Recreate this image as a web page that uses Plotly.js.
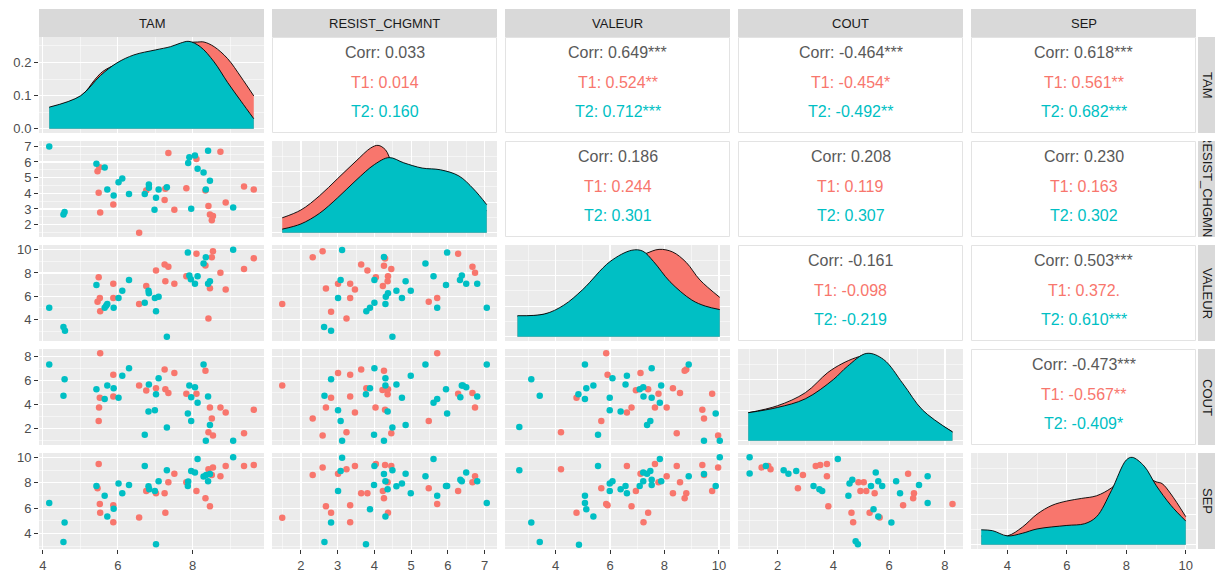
<!DOCTYPE html>
<html><head><meta charset="utf-8">
<script src="https://cdn.plot.ly/plotly-3.0.1.min.js"></script>
<style>html,body{margin:0;padding:0;background:#fff}</style>
</head><body><div id="chart" style="width:1215px;height:574px"></div>
<script>
// ---------- data ----------
const varNames = ['TAM','RESIST_CHGMNT','VALEUR','COUT','SEP'];
const majorTicks = [[4,6,8],[2,3,4,5,6,7],[4,6,8,10],[2,4,6,8],[4,6,8,10]];
const minorTicks = [[3,5,7,9],[1.5,2.5,3.5,4.5,5.5,6.5],[3,5,7,9],[1,3,5,7],[3,5,7,9]];
const densTicks = [0,0.1,0.2];
const densTickText = ['0.0','0.1','0.2'];

// RESIST_CHGMNT (y) vs TAM (x)
const A_T1_x = [7.35,8.74,5.46,5.51,5.49,5.53,5.88,6.57,6.76,7.25,7.27,7.51,7.83,8.10,8.34,8.42,8.46,8.54,8.51,8.88,9.37,9.63];
const A_T1_y = [6.58,6.66,5.41,5.67,4.03,2.78,3.29,1.49,4.18,3.57,4.29,2.95,4.33,6.19,4.18,3.19,2.64,2.55,2.28,3.42,4.44,4.25];
const A_T2_x = [4.17,4.55,4.58,5.43,5.65,5.72,5.89,6.02,6.12,6.30,6.72,6.83,6.83,6.98,7.02,7.09,7.31,7.88,7.91,8.06,7.96,8.13,8.29,8.35,8.41,8.46,9.08];
const A_T2_y = [6.98,2.64,2.81,5.88,5.64,4.25,3.86,4.71,4.94,3.95,3.95,4.56,4.35,2.95,3.72,4.25,4.39,5.94,6.30,6.41,3.02,5.56,5.33,4.25,6.72,4.80,3.10];
// VALEUR vs TAM
const B_T1_x = [5.49,5.46,5.52,5.53,5.88,5.88,6.57,6.76,7.02,7.25,7.35,7.27,7.51,7.83,8.10,8.34,8.42,8.46,8.51,8.54,8.74,8.88,9.37,9.63];
const B_T1_y = [7.62,5.52,5.84,4.70,7.08,5.84,5.33,6.88,8.22,8.73,8.53,7.28,7.08,7.71,9.66,8.64,4.08,6.69,9.35,9.86,8.02,6.57,8.33,9.26];
const B_T2_x = [4.17,4.55,4.59,5.43,5.65,5.69,5.72,5.89,6.02,6.12,6.30,6.72,6.82,6.83,6.99,7.02,7.09,7.31,7.87,7.91,7.95,8.06,8.13,8.29,8.35,8.41,8.46,9.08];
const B_T2_y = [5.01,3.34,3.03,6.97,5.01,5.18,5.33,5.01,5.84,6.46,7.39,5.44,6.46,6.26,5.84,4.70,5.95,2.52,9.75,7.79,7.45,7.08,7.71,8.81,9.35,7.08,7.28,10.0];
// VALEUR vs RESIST_CHGMNT
const C_T1_x = [1.49,2.32,2.59,2.68,2.82,3.01,3.24,3.34,3.34,3.47,3.64,3.81,4.04,4.23,4.26,4.29,4.36,4.37,4.46,5.48,5.71,6.28,6.67,6.74];
const C_T1_y = [5.33,9.35,9.86,6.66,4.67,7.08,4.08,7.08,5.84,6.57,8.73,8.22,7.62,6.88,8.61,9.24,7.28,7.71,8.33,5.52,5.84,9.66,8.53,8.02];
const C_T2_x = [2.63,2.82,3.01,3.08,3.12,3.78,3.88,4.00,4.00,4.26,4.30,4.31,4.37,4.49,4.60,4.75,4.85,4.99,5.39,5.61,5.71,5.95,5.98,6.33,6.38,6.50,6.80,7.06];
const C_T2_y = [3.34,3.03,5.84,7.39,9.97,4.70,5.01,5.44,7.39,9.38,5.33,5.95,6.26,2.52,6.46,5.84,7.28,6.46,8.81,7.71,5.01,6.97,9.75,7.39,7.79,7.08,7.08,5.01];
// COUT vs TAM
const D_T1_x = [5.53,5.49,5.50,5.52,5.88,5.88,6.57,6.76,7.02,7.25,7.27,7.35,7.51,7.83,8.10,8.34,8.42,8.46,8.51,8.54,8.74,8.88,9.37,9.63];
const D_T1_y = [8.28,2.60,3.74,4.56,6.49,4.65,5.59,5.16,5.36,6.92,5.27,4.96,6.64,4.88,4.88,6.81,1.66,3.74,2.80,1.38,3.74,3.31,1.58,3.54];
const D_T2_x = [4.17,4.58,4.55,5.43,5.65,5.72,5.89,6.02,6.12,6.30,6.72,6.82,6.83,6.99,7.02,7.09,7.31,7.87,7.91,7.96,7.96,8.06,8.13,8.29,8.35,8.41,8.46,9.08];
const D_T2_y = [7.35,6.10,4.73,5.27,4.45,5.59,5.36,4.56,6.41,7.03,1.44,3.40,5.67,3.51,4.85,6.18,2.06,3.23,5.59,2.60,4.59,5.44,4.14,7.35,0.95,4.65,2.26,0.95];
// COUT vs RESIST_CHGMNT
const E_T1_x = [1.49,2.32,2.59,2.68,2.82,3.01,3.24,3.34,3.34,3.47,3.64,3.78,4.03,4.22,4.26,4.29,4.31,4.36,4.37,4.46,5.48,5.71,6.28,6.67,6.74];
const E_T1_y = [5.59,2.80,1.38,3.74,4.56,6.64,1.66,6.49,4.65,3.31,6.92,5.36,3.74,5.21,6.81,3.54,5.27,4.85,5.27,1.58,2.60,8.28,4.88,4.96,3.74];
const E_T2_x = [2.64,2.82,3.01,3.08,3.12,3.77,3.88,3.99,4.00,4.26,4.30,4.30,4.36,4.49,4.60,4.75,4.85,4.99,5.39,5.61,5.71,5.95,5.98,6.34,6.38,6.41,6.50,6.80,7.06];
const E_T2_y = [4.73,6.10,3.51,2.60,0.95,4.85,5.36,1.44,7.03,0.95,6.18,5.59,3.40,2.06,5.67,4.56,2.26,6.41,7.35,4.14,4.45,5.27,3.23,4.59,5.59,5.59,5.44,4.65,7.35];
// COUT vs VALEUR
const F_T1_x = [4.20,4.77,5.68,5.86,5.91,6.62,6.79,6.95,7.12,7.40,7.65,7.78,8.08,8.31,8.45,8.57,8.74,8.80,9.39,9.45,9.75,9.97];
const F_T1_y = [1.66,4.56,2.60,8.28,6.49,3.31,3.74,5.19,6.64,5.27,3.74,4.88,3.74,5.36,1.58,4.96,6.81,6.92,3.54,2.80,4.88,1.38];
const F_T2_x = [2.67,3.11,3.42,4.84,5.08,5.08,5.13,5.39,5.56,5.99,5.99,6.09,6.39,6.57,6.62,7.09,7.22,7.23,7.36,7.48,7.53,7.53,7.83,7.88,8.89,9.45,9.88,10.03];
const F_T2_y = [2.09,6.10,4.73,4.85,4.45,7.35,5.36,5.59,1.44,4.56,3.51,6.18,3.40,5.67,6.41,5.27,5.44,4.65,2.26,2.60,7.03,4.56,4.14,5.59,7.35,0.95,3.23,0.95];
// SEP vs TAM
const G_T1_x = [5.49,5.46,5.52,5.53,5.88,5.88,6.57,6.76,7.02,7.25,7.27,7.35,7.51,7.83,8.10,8.34,8.42,8.46,8.51,8.54,8.74,8.88,9.37,9.63];
const G_T1_y = [9.47,7.57,6.32,5.63,6.22,4.89,5.26,7.35,7.17,7.17,5.63,8.04,8.70,8.04,7.35,6.77,9.07,6.14,8.60,9.21,8.52,9.31,9.31,9.39];
const G_T2_x = [4.17,4.58,4.55,5.43,5.65,5.72,5.89,6.02,6.12,6.30,6.72,6.82,6.84,6.99,7.02,7.09,7.31,7.87,7.88,7.96,8.06,8.13,8.29,8.36,8.41,8.46,9.08];
const G_T2_y = [6.40,4.87,3.33,7.75,6.98,5.34,5.95,7.94,7.17,7.83,9.31,7.72,7.49,7.35,3.15,8.12,8.99,7.75,8.10,8.92,8.81,9.87,8.49,8.60,8.12,8.68,10.0];
// SEP vs RESIST_CHGMNT
const H_T1_x = [1.49,2.32,2.59,2.68,2.82,3.01,3.24,3.34,3.34,3.47,3.64,3.81,4.04,4.23,4.26,4.29,4.36,4.37,4.46,5.48,5.71,6.28,6.67,6.74];
const H_T1_y = [5.24,8.60,9.21,6.14,5.63,8.70,9.07,6.22,4.89,9.31,7.17,7.17,9.47,7.35,6.77,9.39,8.04,5.63,9.31,7.57,6.32,7.35,8.04,8.52];
const H_T2_x = [2.64,2.82,3.01,3.08,3.12,3.77,3.88,3.99,4.00,4.26,4.30,4.30,4.36,4.49,4.60,4.75,4.85,4.99,5.39,5.61,5.71,5.95,5.98,6.34,6.38,6.50,6.80,7.06];
const H_T2_y = [3.33,4.87,7.35,8.92,9.97,3.15,5.90,7.83,9.31,8.68,8.12,5.34,7.49,8.99,7.72,7.94,8.70,7.17,8.52,9.87,6.98,7.75,7.75,8.23,8.12,8.81,8.12,6.40];
// SEP vs VALEUR
const I_T1_x = [4.20,4.77,5.68,5.86,5.91,6.62,6.79,6.95,7.12,7.23,7.40,7.65,7.78,8.08,8.31,8.45,8.57,8.74,8.80,9.39,9.45,9.75,9.97];
const I_T1_y = [9.07,5.63,7.57,6.32,6.22,9.31,6.14,7.35,8.70,4.89,5.63,9.47,8.04,8.52,7.17,9.31,8.04,6.77,7.17,9.39,8.60,7.35,9.21];
const I_T2_x = [2.67,3.11,3.42,4.86,5.08,5.08,5.13,5.39,5.56,5.99,5.99,6.09,6.39,6.57,6.62,7.09,7.22,7.22,7.36,7.48,7.53,7.53,7.83,7.88,8.89,9.45,9.88,10.03];
const I_T2_y = [8.99,4.87,3.33,3.12,6.98,6.40,5.90,5.34,9.31,7.35,7.94,8.12,7.49,7.75,7.17,7.75,8.12,8.81,8.70,8.92,8.23,7.83,9.87,8.12,8.52,8.68,7.75,10.0];
// SEP vs COUT
const J_T1_x = [1.43,1.67,1.75,2.73,2.91,3.37,3.53,3.77,3.77,3.82,4.65,4.71,4.90,4.97,5.09,5.18,5.30,5.48,5.66,6.50,6.68,6.86,6.89,8.27];
const J_T1_y = [9.21,9.31,9.07,7.57,8.60,9.31,9.39,9.47,8.52,6.14,5.63,4.89,8.04,7.35,8.04,7.35,5.63,7.17,5.26,6.22,8.70,6.77,7.17,6.32];
const J_T2_x = [1.00,1.00,1.58,2.22,2.39,2.67,3.29,3.50,3.60,4.16,4.54,4.58,4.68,4.80,4.88,5.35,5.44,5.52,5.61,5.61,5.75,6.08,6.25,6.39,7.07,7.38,7.38];
const J_T2_y = [10.0,8.73,9.31,8.99,8.70,8.92,7.75,7.49,7.35,9.87,6.98,7.94,8.23,3.39,3.15,7.75,5.90,8.81,8.12,5.34,7.75,4.87,8.12,7.17,7.83,6.40,8.52];

// densities (TAM in density units, others relative to panel max)
const TAM_dx_T1 = [4.17,5.0,5.4,5.6,6.0,6.5,7.0,7.5,7.9,8.13,8.3,8.57,8.93,9.29,9.63];
const TAM_d_T1  = [0.063,0.097,0.150,0.173,0.197,0.220,0.235,0.245,0.260,0.262,0.262,0.248,0.212,0.156,0.099];
const TAM_dx_T2 = [4.17,5.0,5.54,5.98,6.43,7.0,7.41,7.68,7.9,8.2,8.57,8.93,9.29,9.63];
const TAM_d_T2  = [0.065,0.099,0.161,0.199,0.223,0.238,0.248,0.259,0.264,0.248,0.202,0.140,0.083,0.030];
const RES_dx_T1 = [1.49,2.0,2.5,3.0,3.5,3.9,4.1,4.3,4.5,5.0,5.5,6.0,6.5,7.06];
const RES_d_T1  = [0.17,0.26,0.42,0.62,0.82,0.97,1.0,0.95,0.80,0.68,0.60,0.55,0.42,0.25];
const RES_dx_T2 = [1.49,2.0,2.5,3.0,3.5,4.0,4.4,4.8,5.3,5.8,6.3,6.7,7.06];
const RES_d_T2  = [0.04,0.10,0.22,0.40,0.60,0.78,0.86,0.80,0.74,0.72,0.65,0.50,0.32];
const VAL_dx_T1 = [2.6,3.5,4.5,5.5,6.5,7.3,7.8,8.3,8.8,9.3,10.03];
const VAL_d_T1  = [0.23,0.25,0.35,0.60,0.85,0.95,1.0,0.97,0.85,0.65,0.45];
const VAL_dx_T2 = [2.6,3.6,4.3,5.0,6.0,6.8,7.2,7.6,8.2,9.0,9.5,10.03];
const VAL_d_T2  = [0.24,0.26,0.36,0.54,0.86,0.99,0.98,0.86,0.63,0.42,0.35,0.31];
const COU_dx_T1 = [0.95,2.0,3.0,3.8,4.3,4.8,5.2,5.6,6.5,7.2,8.27];
const COU_d_T1  = [0.32,0.40,0.55,0.78,0.88,0.95,0.98,0.95,0.62,0.33,0.10];
const COU_dx_T2 = [0.95,2.0,3.0,4.0,4.5,5.2,5.8,6.5,7.2,8.27];
const COU_d_T2  = [0.32,0.38,0.48,0.70,0.85,1.0,0.93,0.65,0.35,0.10];
const SEP_dx_T1 = [3.12,4.0,4.5,5.0,5.5,6.0,6.5,7.0,7.5,8.0,8.5,9.0,9.2,9.5,10.0];
const SEP_d_T1  = [0.10,0.10,0.20,0.35,0.45,0.50,0.53,0.56,0.65,0.80,0.80,0.72,0.70,0.58,0.32];
const SEP_dx_T2 = [3.12,3.5,4.0,4.5,5.0,6.0,6.6,7.0,7.5,8.0,8.2,8.6,9.0,9.5,10.0];
const SEP_d_T2  = [0.17,0.16,0.10,0.13,0.18,0.22,0.24,0.32,0.62,0.97,1.0,0.90,0.68,0.45,0.27];

// correlation texts (upper triangle)
const corrPairs = [[0,1],[0,2],[0,3],[0,4],[1,2],[1,3],[1,4],[2,3],[2,4],[3,4]];
const corrAll = ['0.033','0.649***','-0.464***','0.618***','0.186','0.208','0.230','-0.161','0.503***','-0.473***'];
const corrT1  = ['0.014','0.524**','-0.454*','0.561**','0.244','0.119','0.163','-0.098','0.372.','-0.567**'];
const corrT2  = ['0.160','0.712***','-0.492**','0.682***','0.301','0.307','0.302','-0.219','0.610***','-0.409*'];

// ---------- assembly ----------
const W = 1215, H = 574;
const COL1 = '#F8766D', COL2 = '#00BFC4';
const FONT = '"Liberation Sans", Arial, sans-serif';
const colLeft = [39,272,505,738,971], panelW = 225;
const rowTop = [37,141,245,349,453], panelH = 96;
const px = v => v / W, py = v => 1 - v / H;

const scatterPanels = [
  {r:1,c:0,t1x:A_T1_x,t1y:A_T1_y,t2x:A_T2_x,t2y:A_T2_y},
  {r:2,c:0,t1x:B_T1_x,t1y:B_T1_y,t2x:B_T2_x,t2y:B_T2_y},
  {r:2,c:1,t1x:C_T1_x,t1y:C_T1_y,t2x:C_T2_x,t2y:C_T2_y},
  {r:3,c:0,t1x:D_T1_x,t1y:D_T1_y,t2x:D_T2_x,t2y:D_T2_y},
  {r:3,c:1,t1x:E_T1_x,t1y:E_T1_y,t2x:E_T2_x,t2y:E_T2_y},
  {r:3,c:2,t1x:F_T1_x,t1y:F_T1_y,t2x:F_T2_x,t2y:F_T2_y},
  {r:4,c:0,t1x:G_T1_x,t1y:G_T1_y,t2x:G_T2_x,t2y:G_T2_y},
  {r:4,c:1,t1x:H_T1_x,t1y:H_T1_y,t2x:H_T2_x,t2y:H_T2_y},
  {r:4,c:2,t1x:I_T1_x,t1y:I_T1_y,t2x:I_T2_x,t2y:I_T2_y},
  {r:4,c:3,t1x:J_T1_x,t1y:J_T1_y,t2x:J_T2_x,t2y:J_T2_y}
];
const densPanels = [
  {x1:TAM_dx_T1,y1:TAM_d_T1,x2:TAM_dx_T2,y2:TAM_d_T2},
  {x1:RES_dx_T1,y1:RES_d_T1,x2:RES_dx_T2,y2:RES_d_T2},
  {x1:VAL_dx_T1,y1:VAL_d_T1,x2:VAL_dx_T2,y2:VAL_d_T2},
  {x1:COU_dx_T1,y1:COU_d_T1,x2:COU_dx_T2,y2:COU_d_T2},
  {x1:SEP_dx_T1,y1:SEP_d_T1,x2:SEP_dx_T2,y2:SEP_d_T2}
];

// variable extents from the data (ggplot adds 5% on each side)
const mins = [Infinity,Infinity,Infinity,Infinity,Infinity], maxs = [-Infinity,-Infinity,-Infinity,-Infinity,-Infinity];
scatterPanels.forEach(p => {
  [...p.t1x,...p.t2x].forEach(v => {mins[p.c]=Math.min(mins[p.c],v); maxs[p.c]=Math.max(maxs[p.c],v);});
  [...p.t1y,...p.t2y].forEach(v => {mins[p.r]=Math.min(mins[p.r],v); maxs[p.r]=Math.max(maxs[p.r],v);});
});
const ranges = mins.map((m,i)=>{const d=(maxs[i]-m)*0.05; return [m-d, maxs[i]+d];});

const axName = (k, a) => k === 1 ? a : a + k;
const traces = [], layout = {
  width: W, height: H, margin: {l:0,r:0,t:0,b:0}, showlegend: false,
  paper_bgcolor: '#FFFFFF', plot_bgcolor: 'rgba(0,0,0,0)',
  font: {family: FONT, color: '#4D4D4D', size: 13},
  shapes: [], annotations: []
};
const tickStyle = {ticks:'outside', ticklen:4, tickwidth:1, tickcolor:'#333333',
                   showticklabels:true, tickfont:{family:FONT,size:13,color:'#4D4D4D'}};

for (let r = 0; r < 5; r++) {
  for (let c = 0; c < 5; c++) {
    if (r < c) {
      // upper panel: white box with a light border
      layout.shapes.push({type:'rect', xref:'paper', yref:'paper',
        x0:px(colLeft[c]+0.5), x1:px(colLeft[c]+panelW-0.5), y0:py(rowTop[r]+panelH-0.5), y1:py(rowTop[r]+0.5),
        fillcolor:'#FFFFFF', line:{color:'#E3E3E3', width:1}, layer:'below'});
      continue;
    }
    const k = r*5 + c + 1;
    const xa = axName(k,'x'), ya = axName(k,'y');
    const xdom = [px(colLeft[c]), px(colLeft[c]+panelW)];
    const ydom = [py(rowTop[r]+panelH), py(rowTop[r])];
    const base = {fixedrange:true, zeroline:false, showline:false};
    const xaxis = Object.assign({}, base, {domain: xdom, anchor: ya, range: ranges[c],
      showgrid:true, gridcolor:'#FFFFFF', gridwidth:1.1,
      tickmode:'array', tickvals: majorTicks[c], showticklabels:false, ticks:'',
      minor:{tickmode:'array', tickvals: minorTicks[c], showgrid:true, gridcolor:'#FFFFFF', gridwidth:0.5, ticks:''}});
    const yaxis = Object.assign({}, base, {domain: ydom, anchor: xa});
    if (r === 4) Object.assign(xaxis, tickStyle);
    layout.shapes.push({type:'rect', xref:xa+' domain', yref:ya+' domain', x0:0,x1:1,y0:0,y1:1,
      fillcolor:'#EBEBEB', line:{width:0}, layer:'below'});
    if (r === c) {
      const top = c === 0 ? Math.max(...TAM_d_T1, ...TAM_d_T2) : 1;
      yaxis.range = [-0.05*top, 1.05*top];
      const mj = c === 0 ? densTicks : [0,0.35,0.7,1.05];
      const mn = c === 0 ? [0.05,0.15,0.25] : [0.175,0.525,0.875];
      Object.assign(yaxis, {showgrid:true, gridcolor:'#FFFFFF', gridwidth:1.1,
        tickmode:'array', tickvals: mj, showticklabels:false, ticks:'',
        minor:{tickmode:'array', tickvals: mn, showgrid:true, gridcolor:'#FFFFFF', gridwidth:0.5, ticks:''}});
      if (c === 0) yaxis.ticktext = densTickText;
      const d = densPanels[c];
      traces.push({type:'scatter', mode:'lines', x:d.x1, y:d.y1, xaxis:xa, yaxis:ya,
        line:{color:'#000000', width:0.9, shape:'spline', smoothing:1}, fill:'tozeroy', fillcolor:COL1, hoverinfo:'skip'});
      traces.push({type:'scatter', mode:'lines', x:d.x2, y:d.y2, xaxis:xa, yaxis:ya,
        line:{color:'#000000', width:0.9, shape:'spline', smoothing:1}, fill:'tozeroy', fillcolor:COL2, hoverinfo:'skip'});
    } else {
      yaxis.range = ranges[r];
      Object.assign(yaxis, {showgrid:true, gridcolor:'#FFFFFF', gridwidth:1.1,
        tickmode:'array', tickvals: majorTicks[r], showticklabels:false, ticks:'',
        minor:{tickmode:'array', tickvals: minorTicks[r], showgrid:true, gridcolor:'#FFFFFF', gridwidth:0.5, ticks:''}});
      const p = scatterPanels.find(q => q.r===r && q.c===c);
      traces.push({type:'scatter', mode:'markers', x:p.t1x, y:p.t1y, xaxis:xa, yaxis:ya,
        marker:{color:COL1, size:6.5}, cliponaxis:false, hoverinfo:'skip'});
      traces.push({type:'scatter', mode:'markers', x:p.t2x, y:p.t2y, xaxis:xa, yaxis:ya,
        marker:{color:COL2, size:6.5}, cliponaxis:false, hoverinfo:'skip'});
    }
    if (c === 0) Object.assign(yaxis, tickStyle);
    layout[axName(k,'xaxis')] = xaxis;
    layout[axName(k,'yaxis')] = yaxis;
  }
}

// correlation texts (paper coordinates)
corrPairs.forEach((pr, i) => {
  const r = pr[0], c = pr[1];
  const cx = px(colLeft[c] + panelW/2);
  const lines = [['Corr: '+corrAll[i], '#595959', 0.16], ['T1: '+corrT1[i], COL1, 0.47], ['T2: '+corrT2[i], COL2, 0.78]];
  lines.forEach(l => layout.annotations.push({xref:'paper', yref:'paper', x:cx, y:py(rowTop[r] + l[2]*panelH),
    text:l[0], showarrow:false, xanchor:'center', yanchor:'middle', font:{family:FONT, size:16, color:l[1]}}));
});

// strips
for (let i = 0; i < 5; i++) {
  layout.shapes.push({type:'rect', xref:'paper', yref:'paper', x0:px(colLeft[i]), x1:px(colLeft[i]+panelW),
    y0:py(37), y1:py(9), fillcolor:'#D9D9D9', line:{width:0}});
  layout.annotations.push({xref:'paper', yref:'paper', x:px(colLeft[i]+panelW/2), y:py(23), text:varNames[i],
    showarrow:false, xanchor:'center', yanchor:'middle', font:{family:FONT, size:13, color:'#1A1A1A'}});
  layout.shapes.push({type:'rect', xref:'paper', yref:'paper', x0:px(1198), x1:1,
    y0:py(rowTop[i]+panelH), y1:py(rowTop[i]), fillcolor:'#D9D9D9', line:{width:0}});
}
// right strip labels; long label is clipped at the strip ends like the original
for (let i = 0; i < 5; i++) {
  layout.annotations.push({xref:'paper', yref:'paper', x:px(1208), y:py(rowTop[i]+panelH/2), text:varNames[i],
    showarrow:false, xanchor:'center', yanchor:'middle', textangle:90, font:{family:FONT, size:13, color:'#1A1A1A'}});
}
[[rowTop[0]+panelH, rowTop[1]], [rowTop[1]+panelH, rowTop[2]]].forEach(g => {
  layout.annotations.push({xref:'paper', yref:'paper', x:px(1206.5), y:py((g[0]+g[1])/2), text:' ',
    showarrow:false, xanchor:'center', yanchor:'middle', width:19, height:(g[1]-g[0]), bgcolor:'#FFFFFF',
    borderpad:0, borderwidth:0, font:{size:1}});
});

Plotly.newPlot('chart', traces, layout, {staticPlot:true, displayModeBar:false});
</script></body></html>
